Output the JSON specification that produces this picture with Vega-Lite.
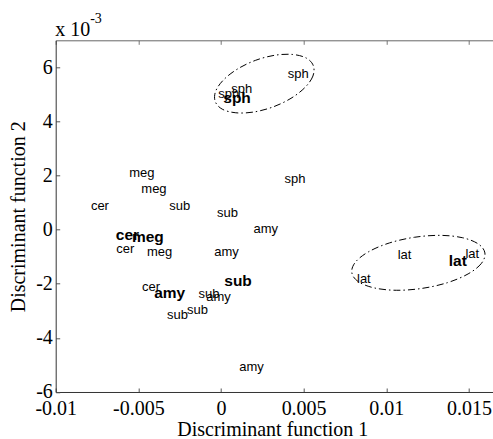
{
  "$schema": "https://vega.github.io/schema/vega-lite/v6.json",
  "width": 438,
  "height": 351.7,
  "autosize": {"type": "none"},
  "padding": {"left": 55.7, "top": 40.3, "right": 0, "bottom": 47},
  "background": "white",
  "view": {"stroke": null},
  "title": {"text": "-3", "anchor": "start", "frame": "group", "font": "Liberation Serif", "fontSize": 14, "fontWeight": "normal", "color": "black", "dx": 34.5, "dy": 17, "offset": 0, "baseline": "alphabetic"},
  "datasets": {
    "labels": [
      {"g": "meg", "x": -0.00555, "y": 2.08, "m": 0},
      {"g": "meg", "x": -0.00482, "y": 1.49, "m": 0},
      {"g": "cer", "x": -0.00787, "y": 0.87, "m": 0},
      {"g": "sub", "x": -0.00313, "y": 0.87, "m": 0},
      {"g": "sub", "x": -0.00024, "y": 0.62, "m": 0},
      {"g": "cer", "x": -0.00636, "y": -0.21, "m": 1},
      {"g": "meg", "x": -0.00539, "y": -0.27, "m": 1},
      {"g": "cer", "x": -0.00634, "y": -0.70, "m": 0},
      {"g": "meg", "x": -0.00448, "y": -0.83, "m": 0},
      {"g": "amy", "x": -0.00041, "y": -0.83, "m": 0},
      {"g": "amy", "x": 0.00197, "y": 0.04, "m": 0},
      {"g": "sub", "x": 0.00020, "y": -1.91, "m": 1},
      {"g": "cer", "x": -0.00478, "y": -2.12, "m": 0},
      {"g": "amy", "x": -0.00404, "y": -2.34, "m": 1},
      {"g": "sub", "x": -0.00136, "y": -2.36, "m": 0},
      {"g": "amy", "x": -0.00089, "y": -2.49, "m": 0},
      {"g": "sub", "x": -0.00206, "y": -2.98, "m": 0},
      {"g": "sub", "x": -0.00327, "y": -3.16, "m": 0},
      {"g": "amy", "x": 0.00111, "y": -5.07, "m": 0},
      {"g": "sph", "x": 0.00404, "y": 5.74, "m": 0},
      {"g": "sph", "x": 0.00062, "y": 5.20, "m": 0},
      {"g": "sph", "x": -0.00016, "y": 5.03, "m": 0},
      {"g": "sph", "x": 0.00014, "y": 4.88, "m": 1},
      {"g": "sph", "x": 0.00385, "y": 1.88, "m": 0},
      {"g": "lat", "x": 0.01069, "y": -0.95, "m": 0},
      {"g": "lat", "x": 0.01378, "y": -1.15, "m": 1},
      {"g": "lat", "x": 0.01479, "y": -0.91, "m": 0},
      {"g": "lat", "x": 0.00823, "y": -1.82, "m": 0}
    ],
    "ellipses": [
      {"e": "sph", "i": 0, "x": 0.005587, "y": 6.063},
      {"e": "sph", "i": 1, "x": 0.005563, "y": 5.679},
      {"e": "sph", "i": 2, "x": 0.005085, "y": 5.258},
      {"e": "sph", "i": 3, "x": 0.004237, "y": 4.856},
      {"e": "sph", "i": 4, "x": 0.003142, "y": 4.535},
      {"e": "sph", "i": 5, "x": 0.001961, "y": 4.347},
      {"e": "sph", "i": 6, "x": 0.000896, "y": 4.321},
      {"e": "sph", "i": 7, "x": 0.000079, "y": 4.454},
      {"e": "sph", "i": 8, "x": -0.000345, "y": 4.734},
      {"e": "sph", "i": 9, "x": -0.000321, "y": 5.118},
      {"e": "sph", "i": 10, "x": 0.000157, "y": 5.539},
      {"e": "sph", "i": 11, "x": 0.001005, "y": 5.941},
      {"e": "sph", "i": 12, "x": 0.002100, "y": 6.262},
      {"e": "sph", "i": 13, "x": 0.003281, "y": 6.450},
      {"e": "sph", "i": 14, "x": 0.004346, "y": 6.476},
      {"e": "sph", "i": 15, "x": 0.005163, "y": 6.343},
      {"e": "lat", "i": 0, "x": 0.015969, "y": -0.860},
      {"e": "lat", "i": 1, "x": 0.015751, "y": -1.251},
      {"e": "lat", "i": 2, "x": 0.014952, "y": -1.635},
      {"e": "lat", "i": 3, "x": 0.013699, "y": -1.959},
      {"e": "lat", "i": 4, "x": 0.012173, "y": -2.170},
      {"e": "lat", "i": 5, "x": 0.010611, "y": -2.240},
      {"e": "lat", "i": 6, "x": 0.009262, "y": -2.151},
      {"e": "lat", "i": 7, "x": 0.008317, "y": -1.923},
      {"e": "lat", "i": 8, "x": 0.007918, "y": -1.590},
      {"e": "lat", "i": 9, "x": 0.008136, "y": -1.199},
      {"e": "lat", "i": 10, "x": 0.008935, "y": -0.815},
      {"e": "lat", "i": 11, "x": 0.010188, "y": -0.491},
      {"e": "lat", "i": 12, "x": 0.011713, "y": -0.280},
      {"e": "lat", "i": 13, "x": 0.013275, "y": -0.210},
      {"e": "lat", "i": 14, "x": 0.014625, "y": -0.299},
      {"e": "lat", "i": 15, "x": 0.015569, "y": -0.528}
    ]
  },
  "resolve": {"axis": {"x": "independent"}},
  "layer": [
    {
      "data": {"name": "labels"},
      "transform": [{"filter": "datum.m == 0"}],
      "mark": {"type": "text", "align": "left", "baseline": "middle", "font": "Liberation Sans", "fontSize": 13, "color": "black"},
      "encoding": {
        "x": {"field": "x", "type": "quantitative",
          "scale": {"domain": [-0.01, 0.0165], "nice": false, "zero": false},
          "axis": {"orient": "bottom", "values": [-0.01, -0.005, 0, 0.005, 0.01, 0.015], "format": "~g",
            "labelExpr": "replace(datum.label, '\u2212', '-')", "labelFlush": false, "labelOverlap": false,
            "labelFont": "Liberation Serif", "labelFontSize": 20, "labelColor": "black", "labelBaseline": "alphabetic", "labelPadding": 27,
            "tickSize": -4, "tickColor": "#555", "domainColor": "#333", "grid": false,
            "title": "Discriminant function 1", "titleFont": "Liberation Serif", "titleFontSize": 20, "titleFontWeight": "normal", "titleColor": "black",
            "titleX": 216.6, "titleY": 44, "titleBaseline": "alphabetic", "titleAlign": "center"}},
        "y": {"field": "y", "type": "quantitative",
          "scale": {"domain": [-6, 7], "nice": false, "zero": false},
          "axis": {"orient": "left", "values": [-6, -4, -2, 0, 2, 4, 6],
            "labelExpr": "replace(datum.label, '\u2212', '-')", "labelFlush": false, "labelOverlap": false,
            "labelFont": "Liberation Serif", "labelFontSize": 20, "labelColor": "black", "labelBaseline": "middle", "labelPadding": 7.4,
            "tickSize": -4, "tickColor": "#555", "domainColor": "#333", "grid": false,
            "title": "Discriminant function 2", "titleFont": "Liberation Serif", "titleFontSize": 20, "titleFontWeight": "normal", "titleColor": "black",
            "titleX": -31, "titleY": 176, "titleAngle": -90, "titleBaseline": "alphabetic", "titleAlign": "center"}},
        "text": {"field": "g", "type": "nominal"}
      }
    },
    {
      "data": {"name": "labels"},
      "transform": [{"filter": "datum.m == 1"}],
      "mark": {"type": "text", "align": "left", "baseline": "middle", "font": "Liberation Sans", "fontSize": 15.5, "fontWeight": "bold", "color": "black"},
      "encoding": {
        "x": {"field": "x", "type": "quantitative", "axis": null},
        "y": {"field": "y", "type": "quantitative"},
        "text": {"field": "g", "type": "nominal"}
      }
    },
    {
      "data": {"name": "ellipses"},
      "mark": {"type": "line", "interpolate": "cardinal-closed", "stroke": "black", "strokeWidth": 1, "strokeDash": [7, 3, 1.5, 3]},
      "encoding": {
        "x": {"field": "x", "type": "quantitative",
          "axis": {"orient": "top", "values": [-0.01, -0.005, 0, 0.005, 0.01, 0.015], "labels": false,
            "tickSize": -4, "tickColor": "#777", "domainColor": "#666", "grid": false,
            "title": "x 10", "titleFont": "Liberation Serif", "titleFontSize": 20, "titleFontWeight": "normal", "titleColor": "black",
            "titleX": -1, "titleY": -4.6, "titleAlign": "left", "titleBaseline": "alphabetic"}},
        "y": {"field": "y", "type": "quantitative"},
        "detail": {"field": "e", "type": "nominal"},
        "order": {"field": "i", "type": "quantitative"}
      }
    }
  ]
}
